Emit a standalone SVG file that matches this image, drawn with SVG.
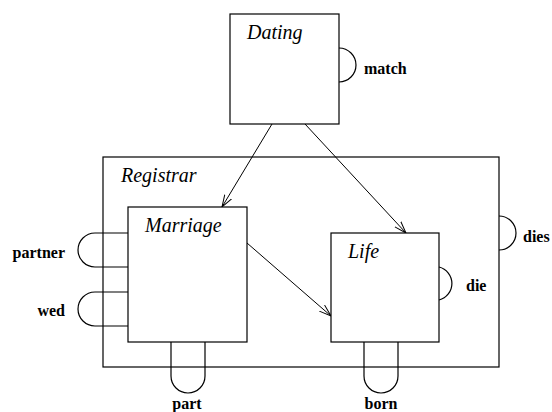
<svg xmlns="http://www.w3.org/2000/svg" width="552" height="412" viewBox="0 0 552 412">
<defs>
<style>
.box{fill:none;stroke:#000;stroke-width:1.2}
.loop{fill:none;stroke:#000;stroke-width:1.2}
.name{font-family:"Liberation Serif",serif;font-style:italic;font-size:20px;fill:#000}
.lbl{font-family:"Liberation Serif",serif;font-weight:bold;font-size:16px;fill:#000}
.edge{fill:none;stroke:#000;stroke-width:1}
</style>
<marker id="arr" viewBox="0 0 12 10" refX="12" refY="5" markerWidth="12" markerHeight="10" markerUnits="userSpaceOnUse" orient="auto">
<path d="M0,1 L12,5 L0,9" fill="none" stroke="#000" stroke-width="1"/>
</marker>
</defs>
<rect width="552" height="412" fill="#fff"/>
<g id="registrar">
<rect class="box" x="103" y="157" width="396" height="210"/>
<text class="name" x="121" y="182">Registrar</text>
<path class="loop" d="M499,216 A17,17 0 0 1 499,250"/>
<text class="lbl" x="523" y="242">dies</text>
</g>
<g id="dating">
<rect class="box" x="230" y="14" width="109" height="110"/>
<text class="name" x="247" y="39">Dating</text>
<path class="loop" d="M339,48 A17,17 0 0 1 339,82"/>
<text class="lbl" x="364" y="74">match</text>
</g>
<g id="marriage">
<rect class="box" x="128" y="207" width="119" height="135"/>
<text class="name" x="145" y="232">Marriage</text>
<path class="loop" d="M128,233 L95,233 A17,17 0 0 0 95,267 L128,267"/>
<text class="lbl" x="65" y="258" text-anchor="end">partner</text>
<path class="loop" d="M128,292 L95,292 A17,17 0 0 0 95,326 L128,326"/>
<text class="lbl" x="65" y="316" text-anchor="end">wed</text>
<path class="loop" d="M171,342 L171,376 A17,17 0 0 0 205,376 L205,342"/>
<text class="lbl" x="187" y="409" text-anchor="middle">part</text>
</g>
<g id="life">
<rect class="box" x="331" y="233" width="108" height="109"/>
<text class="name" x="348" y="258">Life</text>
<path class="loop" d="M439,267 A17,17 0 0 1 439,300"/>
<text class="lbl" x="466" y="291">die</text>
<path class="loop" d="M364,342 L364,376 A17,17 0 0 0 398,376 L398,342"/>
<text class="lbl" x="381" y="409" text-anchor="middle">born</text>
</g>
<g id="connectors">
<line class="edge" x1="272" y1="124" x2="222" y2="207" marker-end="url(#arr)"/>
<line class="edge" x1="305" y1="124" x2="406" y2="233" marker-end="url(#arr)"/>
<line class="edge" x1="247" y1="243" x2="331" y2="316" marker-end="url(#arr)"/>
</g>
</svg>
